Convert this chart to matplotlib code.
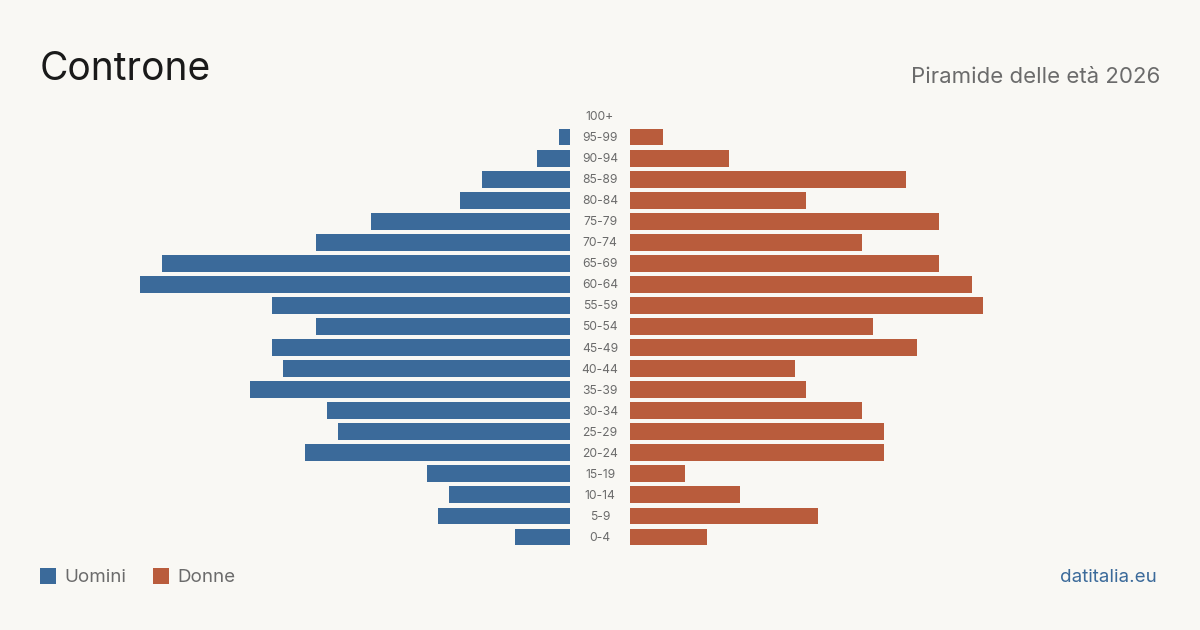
import numpy as np
from matplotlib import pyplot as plt
from matplotlib.patches import Rectangle

# dati della piramide (dal basso verso l'alto)
etaClassi = ['0-4', '5-9', '10-14', '15-19', '20-24', '25-29', '30-34', '35-39', '40-44',
             '45-49', '50-54', '55-59', '60-64', '65-69', '70-74', '75-79', '80-84',
             '85-89', '90-94', '95-99', '100+']
uomini = [5, 12, 11, 13, 24, 21, 22, 29, 26, 27, 23, 27, 39, 37, 23, 18, 10, 8, 3, 1, 0]
donne = [7, 17, 10, 5, 23, 23, 21, 16, 15, 26, 22, 32, 31, 28, 21, 28, 16, 25, 9, 3, 0]

bg = '#f9f8f4'
blu = '#3b6a9a'
rosso = '#b95c3c'
grigio = '#6b6b6b'
plt.rcParams['font.family'] = ['Inter', 'DejaVu Sans']

W, H = 1200, 630
fig = plt.figure(figsize=(12, 6.3), dpi=100, facecolor=bg)

yTop, yBot = 105.5, 547.5    # limiti verticali in pixel
axB = (H - yBot) / H
axH = (yBot - yTop) / H
pxUnit = 11.03    # pixel per persona

axL = fig.add_axes([40 / W, axB, 530 / W, axH])
axR = fig.add_axes([630 / W, axB, 530 / W, axH])
y = np.arange(len(etaClassi))
for ax, vals, col in [(axL, uomini, blu), (axR, donne, rosso)]:
    ax.barh(y, vals, height=0.8, color=col)
    ax.set_xlim(0, 530 / pxUnit)
    ax.set_ylim(-0.5, len(etaClassi) - 0.5)
    ax.axis('off')
    ax.set_facecolor(bg)
axL.invert_xaxis()

# etichette delle classi di età al centro
for i, lab in enumerate(etaClassi):
    yPx = yBot - (i + 0.5) * (yBot - yTop) / len(etaClassi) + 1
    fig.text(600 / W, 1 - yPx / H, lab, ha='center', va='center', fontsize=8.7, color=grigio)

fig.text(40 / W, 1 - 69 / H, 'Controne', ha='left', va='center', fontsize=28, color='#1a1a1a')
fig.text(1160 / W, 1 - 77 / H, 'Piramide delle età 2026', ha='right', va='center', fontsize=16, color=grigio)

# legenda
for x0, col, lab in [(40, blu, 'Uomini'), (153, rosso, 'Donne')]:
    fig.patches.append(Rectangle((x0 / W, 1 - 584 / H), 16 / W, 16 / H, transform=fig.transFigure,
                                 facecolor=col, edgecolor='none'))
    fig.text((x0 + 24) / W, 1 - 577 / H, lab, ha='left', va='center', fontsize=13.5, color=grigio)

fig.text(1157 / W, 1 - 577 / H, 'datitalia.eu', ha='right', va='center', fontsize=13.5, color=blu)

plt.savefig('out.png', dpi=100, facecolor=bg)
